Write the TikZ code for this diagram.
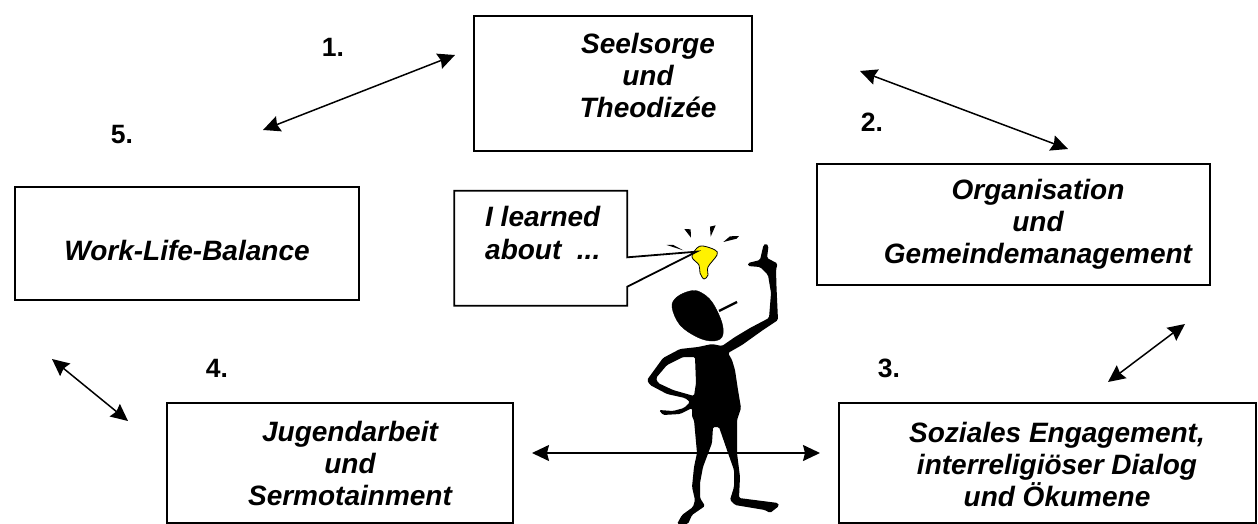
\documentclass[tikz,border=0pt]{standalone}
\usepackage{fontspec}
\setmainfont{Liberation Sans}
\usetikzlibrary{arrows.meta}
\tikzset{
 topic/.style={draw=black,line width=1.8pt,rectangle,anchor=north west,inner sep=0pt},
 words/.style={align=center,font=\fontsize{28}{32}\selectfont\bfseries\itshape,inner sep=0pt},
 num/.style={font=\fontsize{26.5}{32}\selectfont\bfseries},
 link/.style={line width=1.5pt,{Stealth[length=17pt,width=16pt,inset=2pt]}-{Stealth[length=17pt,width=16pt,inset=2pt]}},
 ink/.style={fill=black,draw=black,line width=.4pt,line join=round}
}
\begin{document}
\begin{tikzpicture}[x=1pt,y=-1pt]
\useasboundingbox (0,0) rectangle (1258,524);
\node[topic,minimum width=278pt,minimum height=135pt] (seel) at (473,15) {};
\node[topic,minimum width=393pt,minimum height=121pt] (orga) at (816,163) {};
\node[topic,minimum width=344pt,minimum height=113pt] (work) at (14,186) {};
\node[topic,minimum width=346pt,minimum height=120pt] (jug) at (166,402) {};
\node[topic,minimum width=417pt,minimum height=120pt] (soz) at (838,402) {};
\node[words] (tseel) at (648,75) {Seelsorge\\und\\Theodizée};
\node[words] (torga) at (1038,224.5) {Organisation\\und\\Gemeindemanagement};
\node[words] (twork) at (187,250) {Work-Life-Balance};
\node[words] (tjug) at (350,463) {Jugendarbeit\\und\\Sermotainment};
\node[words] (tsoz) at (1057,464) {Soziales Engagement,\\interreligiöser Dialog\\und Ökumene};
\node[num] (n1) at (333,47) {1.};
\node[num] (n2) at (872,122) {2.};
\node[num] (n3) at (889,368) {3.};
\node[num] (n4) at (217,368) {4.};
\node[num] (n5) at (122,135) {5.};
\coordinate (a1) at (263,130); \coordinate (b1) at (455,55);
\coordinate (a2) at (860,71); \coordinate (b2) at (1068,149);
\coordinate (a3) at (1108,382); \coordinate (b3) at (1185,324);
\coordinate (a4) at (52,359); \coordinate (b4) at (128,421);
\coordinate (a5) at (532,453); \coordinate (b5) at (820,453);
% bulb
\draw[draw=black,line width=.8pt,fill=yellow] plot[smooth cycle,tension=.6] coordinates {(703,246) (715,250) (717,255) (708,267) (708,275) (704,279) (700,273) (699,265) (692,257) (697,248)};
% callout and rays
\begin{scope}[shift={(440,170)},x=.3333pt,y=-.3333pt]
\draw[draw=black,line width=1.8pt,fill=white,line join=miter] (43,62) -- (562,62) -- (562,262) -- (770,245) -- (562,350) -- (562,407) -- (43,407) -- cycle;
\fill[black] (733,177) -- (752,178) -- (753,203) -- cycle;
\fill[black] (810,170) -- (827,166) -- (812,200) -- cycle;
\fill[black] (850,216) -- (870,199) -- (897,198) -- (890,206) -- cycle;
\fill[black] (680,225) -- (700,225) -- (730,241) -- cycle;
\end{scope}
% figure
\draw[ink] plot[smooth cycle,tension=.6] coordinates {(672,307) (677,297) (690,291) (700,292) (712,302) (722,323) (722,337) (712,341) (697,337) (680,325)};
\draw[ink,line width=2.4pt] (719,311) -- (737,302);
\fill[black,even odd rule,rounded corners=1.5pt]
 (698,347) -- (680,349) -- (663,358) -- (647,380) -- (650,385) -- (667,394) -- (685,398) -- (690,402) -- (684,408) -- (673,411) -- (659,410) -- (663,415) -- (680,414) -- (692,408) -- (692,417) -- (694,420) -- (697,453) -- (694,467) -- (692,487) -- (695,500) -- (693,507) -- (682,515) -- (677,524) -- (688,524) -- (692,515) -- (705,506) -- (700,498) -- (700,483) -- (703,467) -- (712,443) -- (713,427) -- (719,427) -- (728,453) -- (734,470) -- (734,487) -- (730,500) -- (735,505) -- (765,510) -- (770,513) -- (779,506) -- (778,503) -- (739,498) -- (740,477) -- (737,453) -- (737,420) -- (741,408) -- (738,390) -- (735,370) -- (732,360) -- (728,353) -- (742,345) -- (763,330) -- (778,320) -- (776.5,287) -- (776,270) -- (777.5,263.5) -- (767,258) -- (768.5,246) -- (766,243.5) -- (763.5,245) -- (760,260) -- (748,263) -- (748,266) -- (760,267) -- (768,275) -- (771,293) -- (769,318) -- (750,328) -- (735,337) -- (722,346) -- (712,344) -- cycle
 (695,357) -- (683,357) -- (667,365) -- (656,378) -- (658,383) -- (673,390) -- (694,396) -- (696,383) -- cycle;
\node[font=\fontsize{28}{33}\selectfont\bfseries\itshape,align=left,inner sep=0pt,anchor=west] (ilearn) at (485,233) {I learned\\about~ ...};
\draw[link] (a1) -- (b1);
\draw[link] (a2) -- (b2);
\draw[link] (a3) -- (b3);
\draw[link] (a4) -- (b4);
\draw[link] (a5) -- (b5);
\end{tikzpicture}
\end{document}
